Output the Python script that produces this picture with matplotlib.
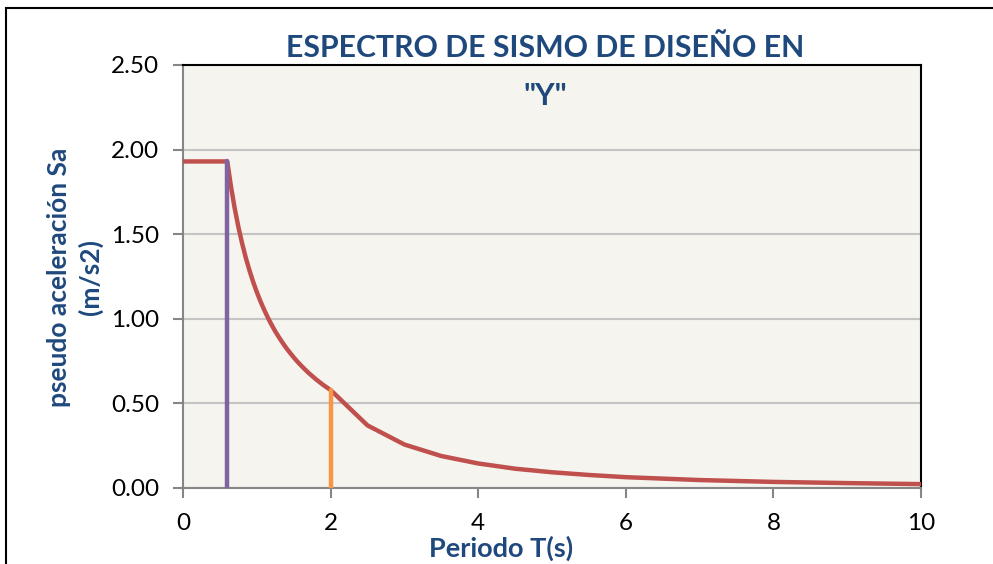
import matplotlib
matplotlib.use("Agg")
import matplotlib.pyplot as plt
from matplotlib.patches import Rectangle

# Data
periodo_T = [0.0, 0.6, 0.65, 0.7, 0.75, 0.8, 0.85, 0.9, 0.95, 1.0, 1.05, 1.1, 1.15, 1.2, 1.25, 1.3,
             1.35, 1.4, 1.45, 1.5, 1.55, 1.6, 1.65, 1.7, 1.75, 1.8, 1.85, 1.9, 1.95, 2.0,
             2.5, 3.0, 3.5, 4.0, 4.5, 5.0, 5.5, 6.0, 7.0, 8.0, 9.0, 10.0]
sa_values = [1.93, 1.93, 1.782, 1.654, 1.544, 1.448, 1.362, 1.287, 1.219, 1.158, 1.103, 1.053, 1.007,
             0.965, 0.926, 0.891, 0.858, 0.827, 0.799, 0.772, 0.747, 0.724, 0.702, 0.681, 0.662,
             0.643, 0.626, 0.609, 0.594, 0.579,
             0.37, 0.257, 0.189, 0.145, 0.114, 0.093, 0.077, 0.064, 0.047, 0.036, 0.029, 0.023]
tp_line_T = [0.6, 0.6]
tp_line_Sa = [0.0, 1.93]
tl_line_T = [2.0, 2.0]
tl_line_Sa = [0.0, 0.58]
y_ticks = [0.0, 0.5, 1.0, 1.5, 2.0, 2.5]
y_tick_labels = ["0.00", "0.50", "1.00", "1.50", "2.00", "2.50"]
x_ticks = [0, 2, 4, 6, 8, 10]
x_tick_labels = ["0", "2", "4", "6", "8", "10"]

plt.rcParams['font.family'] = ['Lato', 'DejaVu Sans']

W, H = 993, 564
fig = plt.figure(figsize=(W / 100, H / 100), dpi=100)
fig.patch.set_facecolor('white')

# outer chart frame
fig.add_artist(Rectangle((6 / W, -0.05), 1.2, 1 - 8 / H + 0.05, transform=fig.transFigure,
                         fill=False, edgecolor='black', linewidth=1.5))

left, right, top, bottom = 183, 921, 65, 488
ax = fig.add_axes([left / W, 1 - bottom / H, (right - left) / W, (bottom - top) / H])
ax.set_facecolor('#F5F4EF')

ax.plot(periodo_T, sa_values, color='#C0504D', linewidth=3.2, solid_capstyle='butt',
        solid_joinstyle='round', zorder=3)
ax.plot(tp_line_T, tp_line_Sa, color='#8064A2', linewidth=3.2, solid_capstyle='round', zorder=4)
ax.plot(tl_line_T, tl_line_Sa, color='#F79646', linewidth=3.2, solid_capstyle='round', zorder=4)

ax.set_xlim(0, 10)
ax.set_ylim(0, 2.5)
ax.set_yticks(y_ticks)
ax.set_yticklabels(y_tick_labels)
ax.set_xticks(x_ticks)
ax.set_xticklabels(x_tick_labels)
ax.yaxis.grid(True, color='#C4C4C4', linewidth=1.5)
ax.set_axisbelow(True)

for s in ['top', 'right']:
    ax.spines[s].set_color('black')
    ax.spines[s].set_linewidth(1.5)
for s in ['left', 'bottom']:
    ax.spines[s].set_color('#868686')
    ax.spines[s].set_linewidth(1.5)

ax.tick_params(axis='both', direction='out', length=7, width=1.5, color='#868686',
               labelsize=17.5, labelcolor='black')
ax.tick_params(axis='y', pad=10)
ax.tick_params(axis='x', pad=11)

blue = '#1F497D'
fig.text(545 / W, 1 - 48 / H, 'ESPECTRO DE SISMO DE DISEÑO EN', ha='center', va='center',
         fontsize=21.8, fontweight='bold', color=blue)
fig.text(545 / W, 1 - 96 / H, '"Y"', ha='center', va='center',
         fontsize=21.8, fontweight='bold', color=blue)

fig.text(59 / W, 1 - 277 / H, 'pseudo aceleración Sa', ha='center', va='center', rotation=90,
         fontsize=19, fontweight='bold', color=blue)
fig.text(90 / W, 1 - 277 / H, '(m/s2)', ha='center', va='center', rotation=90,
         fontsize=19, fontweight='bold', color=blue)
fig.text(501 / W, 1 - 548 / H, 'Periodo T(s)', ha='center', va='center',
         fontsize=19.5, fontweight='bold', color=blue)

fig.savefig('out.png', dpi=100)
